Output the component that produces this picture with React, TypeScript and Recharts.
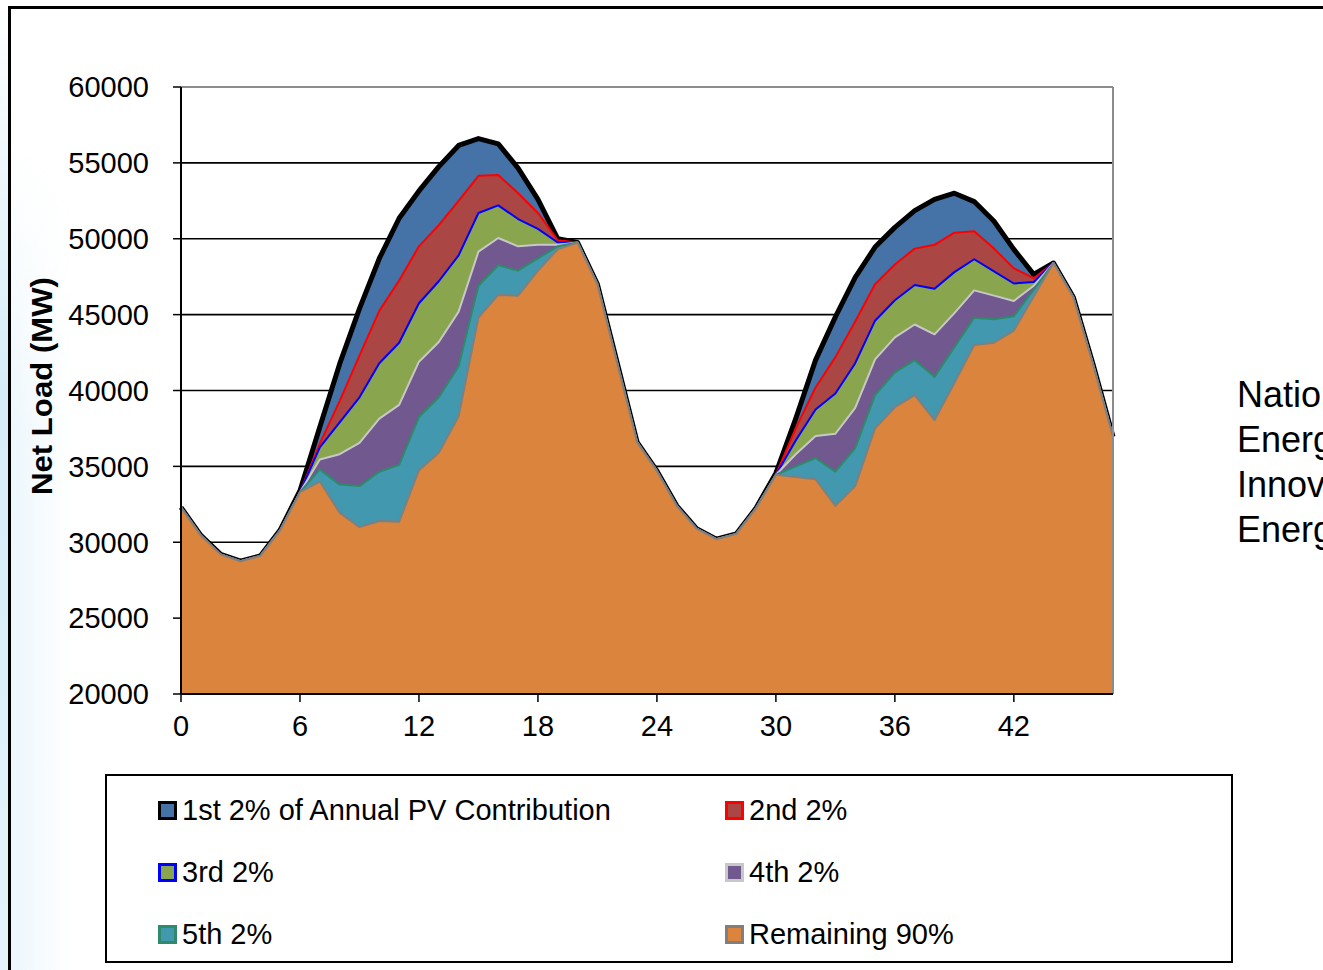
import {
  AreaChart,
  Area,
  XAxis,
  YAxis,
  CartesianGrid,
  ReferenceLine,
} from "recharts";

const FONT = "'Liberation Sans', Arial, sans-serif";

// hour of the two-day window
const hours = [
  0, 1, 2, 3, 4, 5, 6, 7, 8, 9, 10, 11, 12, 13, 14, 15, 16, 17, 18, 19, 20, 21,
  22, 23, 24, 25, 26, 27, 28, 29, 30, 31, 32, 33, 34, 35, 36, 37, 38, 39, 40,
  41, 42, 43, 44, 45, 46, 47,
];

// net load (MW) with 0%, 2%, 4%, 6%, 8% and 10% annual PV
const loadNoPv = [
  32300, 30450, 29200, 28750, 29100, 30800, 33400, 37600, 41750, 45400,
  48700, 51350, 53150, 54750, 56150, 56600, 56250, 54650, 52600, 50000,
  49750, 47000, 41800, 36600, 34700, 32400, 30900, 30200, 30550, 32250,
  34550, 38150, 42000, 44850, 47450, 49450, 50750, 51850, 52600, 53000,
  52450, 51150, 49300, 47650, 48400, 46150, 41700, 36950,
];
const netLoadPv2 = [
  32300, 30450, 29200, 28750, 29100, 30800, 33300, 36500, 39300, 42300,
  45250, 47250, 49500, 50900, 52500, 54150, 54200, 53000, 51700, 49900,
  49750, 47000, 41800, 36600, 34700, 32400, 30900, 30200, 30550, 32250,
  34450, 37500, 40200, 42200, 44550, 47000, 48300, 49350, 49600, 50400,
  50500, 49350, 48050, 47400, 48400, 46150, 41700, 36950,
];
const netLoadPv4 = [
  32300, 30450, 29200, 28750, 29100, 30800, 33300, 36250, 37900, 39550,
  41800, 43150, 45750, 47200, 48900, 51700, 52200, 51300, 50650, 49750,
  49750, 47000, 41800, 36600, 34700, 32400, 30900, 30200, 30550, 32250,
  34450, 36700, 38750, 39800, 41800, 44600, 45950, 46950, 46700, 47800,
  48650, 47850, 47050, 47150, 48400, 46150, 41700, 36950,
];
const netLoadPv6 = [
  32300, 30450, 29200, 28750, 29100, 30800, 33300, 35450, 35800, 36550,
  38150, 39050, 41900, 43200, 45200, 49150, 50050, 49500, 49600, 49600,
  49750, 47000, 41800, 36600, 34700, 32400, 30900, 30200, 30550, 32250,
  34450, 35800, 37000, 37150, 38850, 42050, 43500, 44350, 43700, 45100,
  46600, 46250, 45900, 46900, 48400, 46150, 41700, 36950,
];
const netLoadPv8 = [
  32300, 30450, 29200, 28750, 29100, 30800, 33300, 34800, 33800, 33700,
  34650, 35100, 38250, 39550, 41600, 46900, 48250, 47900, 48700, 49500,
  49750, 47000, 41800, 36600, 34700, 32400, 30900, 30200, 30550, 32250,
  34450, 35000, 35550, 34650, 36200, 39700, 41200, 42000, 40900, 42850,
  44800, 44700, 44900, 46650, 48400, 46150, 41700, 36950,
];
const netLoadPv10 = [
  32300, 30450, 29200, 28750, 29100, 30800, 33300, 34000, 31950, 31000,
  31400, 31350, 34750, 35900, 38300, 44800, 46300, 46250, 47900, 49300,
  49750, 47000, 41800, 36600, 34700, 32400, 30900, 30200, 30550, 32250,
  34450, 34300, 34150, 32400, 33700, 37500, 38900, 39700, 38050, 40500,
  43000, 43150, 43950, 46200, 48400, 46150, 41700, 36950,
];

const xTicks = [0, 6, 12, 18, 24, 30, 36, 42];
const yTicks = [20000, 25000, 30000, 35000, 40000, 45000, 50000, 55000, 60000];

const data = hours.map((hour, i) => ({
  hour,
  loadNoPv: loadNoPv[i],
  netLoadPv2: netLoadPv2[i],
  netLoadPv4: netLoadPv4[i],
  netLoadPv6: netLoadPv6[i],
  netLoadPv8: netLoadPv8[i],
  netLoadPv10: netLoadPv10[i],
}));

// drawn top band first, each lower curve painted over it
const series = [
  { key: "loadNoPv", name: "1st 2% of Annual PV Contribution", fill: "#4572A7", stroke: "#000000", width: 5 },
  { key: "netLoadPv2", name: "2nd 2%", fill: "#AA4643", stroke: "#ff0000", width: 2 },
  { key: "netLoadPv4", name: "3rd 2%", fill: "#89A54E", stroke: "#0000ff", width: 2 },
  { key: "netLoadPv6", name: "4th 2%", fill: "#71588F", stroke: "#c8c8c8", width: 2 },
  { key: "netLoadPv8", name: "5th 2%", fill: "#4198AF", stroke: "#2f8a6a", width: 2 },
  { key: "netLoadPv10", name: "Remaining 90%", fill: "#DB843D", stroke: "#7f7f7f", width: 2 },
];

const tickStyle = { fontSize: 29, fill: "#000", fontFamily: FONT };

const YLabel = () => (
  <text
    x={42}
    y={386}
    transform="rotate(-90, 42, 386)"
    textAnchor="middle"
    dominantBaseline="central"
    fontFamily={FONT}
    fontWeight="bold"
    fontSize={29}
    textLength={218}
    lengthAdjust="spacingAndGlyphs"
    fill="#000"
  >
    Net Load (MW)
  </text>
);

function LegendBox() {
  const cols = [158, 725];
  const rows = [810, 872, 934];
  return (
    <div
      style={{
        position: "absolute",
        left: 105,
        top: 774,
        width: 1128,
        height: 189,
        border: "2px solid #000",
        boxSizing: "border-box",
      }}
    >
      {series.map((s, i) => {
        const left = cols[i % 2] - 107;
        const mid = rows[Math.floor(i / 2)] - 776;
        return (
          <div key={s.key}>
            <div
              style={{
                position: "absolute",
                left,
                top: mid - 9,
                width: 19,
                height: 19,
                background: s.fill,
                border: `3px solid ${s.stroke}`,
                boxSizing: "border-box",
              }}
            />
            <div
              style={{
                position: "absolute",
                left: left + 24,
                top: mid - 14.5,
                fontSize: 29,
                lineHeight: "29px",
                whiteSpace: "nowrap",
                color: "#000",
              }}
            >
              {s.name}
            </div>
          </div>
        );
      })}
    </div>
  );
}

export default function App() {
  return (
    <div
      style={{
        position: "absolute",
        left: 0,
        top: 0,
        width: 1323,
        height: 970,
        overflow: "hidden",
        background: "#fff",
        fontFamily: FONT,
      }}
    >
      {/* slide edge */}
      <div
        style={{
          position: "absolute",
          left: 0,
          top: 0,
          width: 8,
          height: 970,
          background: "linear-gradient(#ffffff, #d6edf8 40%, #e4f3fb)",
        }}
      />
      <div
        style={{
          position: "absolute",
          left: 11,
          top: 0,
          width: 60,
          height: 970,
          background: "linear-gradient(90deg, rgba(214,237,248,0.45), rgba(255,255,255,0))",
          WebkitMaskImage: "linear-gradient(transparent 15%, #000 45%)",
          maskImage: "linear-gradient(transparent 15%, #000 45%)",
        }}
      />
      <div style={{ position: "absolute", left: 8, top: 6, width: 1315, height: 2.5, background: "#000" }} />
      <div style={{ position: "absolute", left: 8, top: 6, width: 2.5, height: 964, background: "#000" }} />

      <div style={{ position: "absolute", left: 0, top: 0 }}>
        <AreaChart
          width={1140}
          height={760}
          data={data}
          margin={{ top: 87, right: 27, bottom: 0, left: 0 }}
        >
          <CartesianGrid vertical={false} stroke="#000" strokeWidth={1.6} />
          <XAxis
            dataKey="hour"
            type="number"
            domain={[0, 47]}
            ticks={xTicks}
            interval={0}
            height={66}
            tick={tickStyle}
            tickSize={8}
            tickMargin={13}
            axisLine={{ stroke: "#000", strokeWidth: 2 }}
            tickLine={{ stroke: "#000", strokeWidth: 1.5 }}
          />
          <YAxis
            type="number"
            domain={[20000, 60000]}
            ticks={yTicks}
            interval={0}
            width={181}
            tick={tickStyle}
            tickSize={8}
            tickMargin={24}
            axisLine={{ stroke: "#000", strokeWidth: 2 }}
            tickLine={{ stroke: "#000", strokeWidth: 1.5 }}
            label={<YLabel />}
          />
          {series.map((s) => (
            <Area
              key={s.key}
              type="linear"
              dataKey={s.key}
              name={s.name}
              fill={s.fill}
              fillOpacity={1}
              stroke={s.stroke}
              strokeWidth={s.width}
              strokeLinejoin="round"
              dot={false}
              activeDot={false}
              isAnimationActive={false}
            />
          ))}
          <ReferenceLine y={60000} stroke="#8c8c8c" strokeWidth={2} />
          <ReferenceLine x={47} stroke="#8c8c8c" strokeWidth={2} />
        </AreaChart>
      </div>

      <LegendBox />

      {/* logo text at the slide edge, cut off by the page as in the source */}
      <div
        style={{
          position: "absolute",
          left: 1237,
          top: 372,
          fontSize: 36,
          lineHeight: "45px",
          whiteSpace: "nowrap",
          color: "#000",
        }}
      >
        <div>National Renewable</div>
        <div>Energy Laboratory</div>
        <div>Innovation for Our</div>
        <div>Energy Future</div>
      </div>
    </div>
  );
}
